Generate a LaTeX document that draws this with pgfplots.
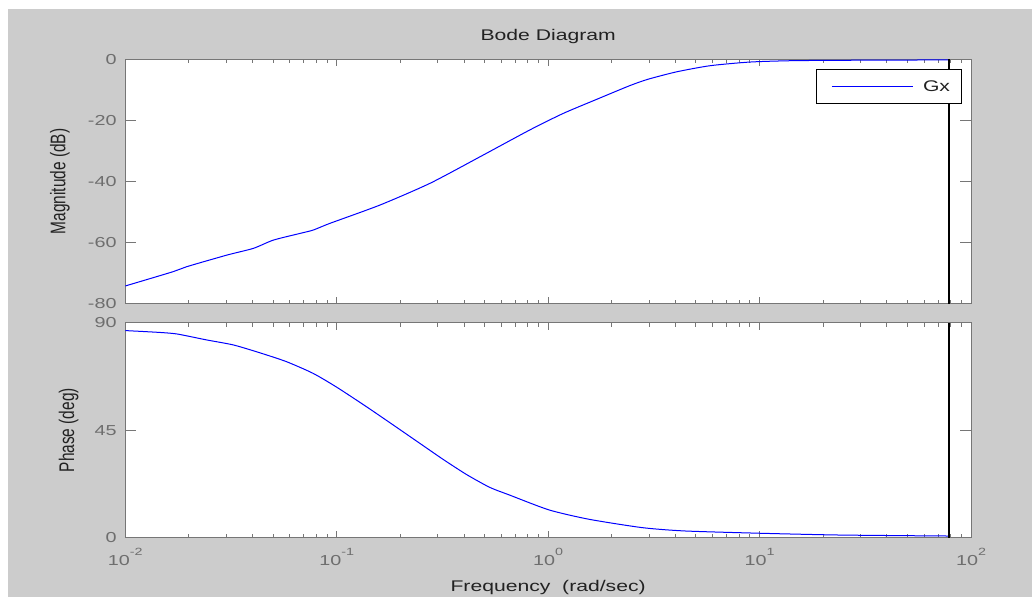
\documentclass[border=0pt]{standalone}
\usepackage{fontspec}
\setmainfont{Liberation Sans}[FakeStretch=1.37]
\newfontfamily\plainsans{Liberation Sans}
\usepackage{pgfplots}
\pgfplotsset{compat=1.18}
\definecolor{bggrey}{RGB}{204,204,204}
\definecolor{axgrey}{RGB}{118,118,118}
\definecolor{tlgrey}{RGB}{110,110,110}
\definecolor{lbl}{RGB}{34,34,34}
\definecolor{mblue}{RGB}{0,0,255}
\newcommand\tickfont{\fontsize{14.5}{17}\selectfont}
\newcommand\lblfont{\fontsize{15.5}{18}\selectfont}
\newcommand\tenpow[1]{10\raisebox{0.72em}{\fontsize{10.5}{12}\selectfont #1}}
\newcommand\vlabel[1]{\scalebox{1}[1.37]{\plainsans\lblfont #1}}
\pgfplotsset{
  panel/.style={scale only axis, width=845.7bp, anchor=south west,
    axis line style={axgrey, line width=1bp},
    tick style={axgrey, line width=1bp},
    tick align=inside},
  yframe/.style={xmin=-2, xmax=2, xtick=\empty, major tick length=11bp,
    axis background/.style={fill=white},
    yticklabel style={font=\tickfont, text=tlgrey, anchor=east, inner sep=0pt, xshift=-8.5bp},
    ylabel style={anchor=center, text=lbl}},
  xframe/.style={xmin=0.01, xmax=100, ytick=\empty,
    xtick={0.01,0.1,1,10,100},
    minor xtick={0.02,0.03,0.04,0.05,0.06,0.07,0.08,0.09,0.2,0.3,0.4,0.5,0.6,0.7,0.8,0.9,2,3,4,5,6,7,8,9,20,30,40,50,60,70,80,90},
    major tick length=7bp, minor tick length=4bp},
}
\begin{document}
\begin{tikzpicture}[x=1bp,y=1bp]
\useasboundingbox (0,0) rectangle (1032,597);
\fill[white] (0,0) rectangle (1032,597);
\fill[bggrey] (8,0) rectangle (1032,588);

% ---------- Magnitude panel ----------
\begin{axis}[panel, yframe, at={(125.3bp,293.3bp)}, height=244.4bp,
  ymin=-80, ymax=0, ytick={-80,-60,-40,-20,0}, yticklabels={-80,-60,-40,-20,0},
  ylabel={\vlabel{Magnitude (dB)}},
  ylabel style={at={(axis description cs:-0.0772,0.5)}},
  title={Bode Diagram},
  title style={at={(axis description cs:0.5,1)}, anchor=base, yshift=12.6bp, font=\lblfont, text=lbl}]
\end{axis}
\begin{axis}[xmode=log, panel, xframe, at={(125.3bp,293.3bp)}, height=244.4bp,
  ymin=-80, ymax=0, xticklabels={},
  legend style={at={(rel axis cs:0.9882,0.9562)}, anchor=north east, draw=black, line width=1bp,
    fill=white, inner sep=0pt, outer sep=0pt, font=\lblfont, text=lbl,
    nodes={inner sep=0pt}, /tikz/every odd column/.style={column sep=10bp}},
  legend image code/.code={\path[draw=none,fill=none] (-15.3bp,-16.65bp) rectangle (0bp,16.65bp);
    \draw[mblue, line width=1bp] (0bp,0bp) -- (80.7bp,0bp);}]
\addplot[mblue, line width=1bp, smooth, tension=0.4] coordinates {
(0.01,-74.2) (0.01687,-69.5) (0.0195,-67.9) (0.0302,-64.1) (0.0403,-61.9)
(0.0501,-59.2) (0.0670,-57.0) (0.0774,-55.9) (0.0929,-53.7) (0.1603,-47.7)
(0.2761,-40.6) (0.4764,-31.9) (0.8204,-23.1) (1.180,-17.7) (1.698,-13.1)
(2.438,-8.6) (2.979,-6.5) (4.055,-4.1) (5.834,-2.1) (9.016,-0.9)
(14.45,-0.45) (30,-0.3) (78.5,-0.2)};
\addlegendentry{Gx\rule{11bp}{0pt}}
\addplot[black, line width=1.5bp, forget plot] coordinates {(78.5,-80) (78.5,0)};
\end{axis}

% ---------- Phase panel ----------
\begin{axis}[panel, yframe, at={(125.3bp,59.3bp)}, height=215bp,
  ymin=0, ymax=90, ytick={0,45,90}, yticklabels={0,45,90},
  ylabel={\vlabel{Phase (deg)}},
  ylabel style={at={(axis description cs:-0.0669,0.5)}}]
\end{axis}
\begin{axis}[xmode=log, panel, xframe, at={(125.3bp,59.3bp)}, height=215bp,
  ymin=0, ymax=90,
  xticklabels={\tenpow{-2},\tenpow{-1},\tenpow{0},\tenpow{1},\tenpow{2}},
  xticklabel style={font=\tickfont, text=tlgrey, anchor=base, inner sep=0pt, yshift=-28.3bp},
  xlabel={Frequency\ \ (rad/sec)},
  xlabel style={at={(axis description cs:0.5,0)}, anchor=base, yshift=-54.3bp, font=\lblfont, text=lbl}]
\addplot[mblue, line width=1bp, smooth, tension=0.4] coordinates {
(0.01,86.7) (0.01406,86.0) (0.0175,85.3) (0.0242,82.8) (0.0324,80.7)
(0.0433,77.4) (0.0578,73.7) (0.0773,68.8) (0.1,63.0) (0.1384,54.8)
(0.1849,47.2) (0.2472,39.5) (0.3184,32.8) (0.4102,26.5) (0.5284,21.1)
(0.6546,17.9) (1.012,11.6) (1.563,7.7) (2.793,4.2) (4.467,2.8)
(10.67,1.8) (24.55,1.1) (78.5,0.7)};
\addplot[black, line width=1.5bp, forget plot] coordinates {(78.5,0) (78.5,90)};
\end{axis}
\end{tikzpicture}
\end{document}
